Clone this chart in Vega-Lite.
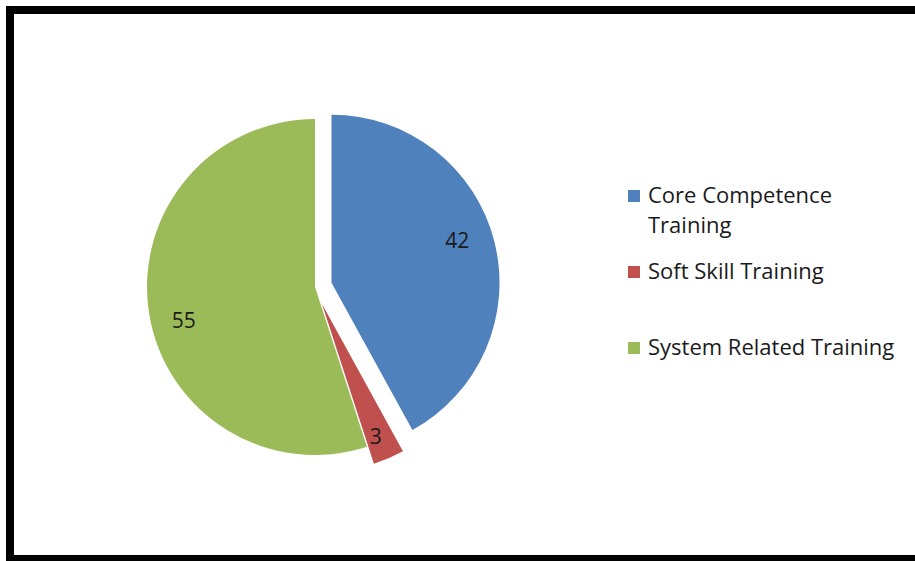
{
  "$schema": "https://vega.github.io/schema/vega-lite/v6.json",
  "width": 915,
  "height": 549,
  "autosize": "none",
  "padding": {"left": 10, "top": 10, "right": -10, "bottom": 2},
  "background": "white",
  "config": {
    "view": {"stroke": "black", "strokeWidth": 8},
    "style": {"view": {"stroke": "black", "strokeWidth": 8}, "cell": {"stroke": "black", "strokeWidth": 8}},
    "font": "Open Sans",
    "legend": {
      "labelFont": "Open Sans",
      "labelFontSize": 22,
      "labelColor": "#1a1a1a",
      "labelLimit": 400,
      "labelOffset": 3,
      "symbolSize": 144,
      "symbolType": "square",
      "symbolStrokeWidth": 0,
      "rowPadding": 24,
      "padding": 0
    }
  },
  "data": {
    "values": [
      {"cat": "Core Competence Training", "value": 42},
      {"cat": "Soft Skill Training", "value": 3},
      {"cat": "System Related Training", "value": 55}
    ]
  },
  "layer": [
    {
      "transform": [
        {"stack": "value", "groupby": [], "as": ["v0", "v1"], "sort": [{"field": "cat", "order": "ascending"}]},
        {"filter": "datum.cat == 'System Related Training'"}
      ],
      "mark": {"type": "arc", "outerRadius": 168, "x": 305, "y": 277},
      "encoding": {
        "theta": {"field": "v0", "type": "quantitative", "scale": {"domain": [0, 100]}},
        "theta2": {"field": "v1"},
        "color": {
          "field": "cat", "type": "nominal",
          "scale": {"domain": ["Core Competence Training", "Soft Skill Training", "System Related Training"], "range": ["#4F81BD", "#C0504D", "#9BBB59"]},
          "legend": {"title": null, "orient": "none", "legendX": 613, "legendY": 175, "labelExpr": "datum.label == 'Core Competence Training' ? ['Core Competence', 'Training'] : [datum.label, ' ']", "encode": {"labels": {"update": {"lineHeight": {"value": 30}}}}}
        }
      }
    },
    {
      "transform": [
        {"stack": "value", "groupby": [], "as": ["v0", "v1"], "sort": [{"field": "cat", "order": "ascending"}]},
        {"filter": "datum.cat == 'Core Competence Training'"}
      ],
      "mark": {"type": "arc", "outerRadius": 168, "x": 321.5, "y": 272.8},
      "encoding": {
        "theta": {"field": "v0", "type": "quantitative", "scale": {"domain": [0, 100]}},
        "theta2": {"field": "v1"},
        "color": {
          "field": "cat", "type": "nominal",
          "scale": {"domain": ["Core Competence Training", "Soft Skill Training", "System Related Training"], "range": ["#4F81BD", "#C0504D", "#9BBB59"]},
          "legend": {"title": null, "orient": "none", "legendX": 613, "legendY": 175, "labelExpr": "datum.label == 'Core Competence Training' ? ['Core Competence', 'Training'] : [datum.label, ' ']", "encode": {"labels": {"update": {"lineHeight": {"value": 30}}}}}
        }
      }
    },
    {
      "transform": [
        {"stack": "value", "groupby": [], "as": ["v0", "v1"], "sort": [{"field": "cat", "order": "ascending"}]},
        {"filter": "datum.cat == 'Soft Skill Training'"}
      ],
      "mark": {"type": "arc", "outerRadius": 168, "x": 312, "y": 294},
      "encoding": {
        "theta": {"field": "v0", "type": "quantitative", "scale": {"domain": [0, 100]}},
        "theta2": {"field": "v1"},
        "color": {
          "field": "cat", "type": "nominal",
          "scale": {"domain": ["Core Competence Training", "Soft Skill Training", "System Related Training"], "range": ["#4F81BD", "#C0504D", "#9BBB59"]},
          "legend": {"title": null, "orient": "none", "legendX": 613, "legendY": 175, "labelExpr": "datum.label == 'Core Competence Training' ? ['Core Competence', 'Training'] : [datum.label, ' ']", "encode": {"labels": {"update": {"lineHeight": {"value": 30}}}}}
        }
      }
    },
    {
      "mark": {"type": "text", "radius": 136, "x": 308, "y": 291, "fontSize": 21, "font": "Open Sans", "color": "#1a1a1a"},
      "encoding": {
        "theta": {"field": "value", "type": "quantitative", "stack": true},
        "order": {"field": "cat", "sort": "ascending"},
        "detail": {"field": "cat"},
        "text": {"condition": {"test": "datum.cat == 'System Related Training'", "field": "value", "type": "quantitative"}, "value": ""}
      }
    },
    {
      "mark": {"type": "text", "radius": 133, "x": 318.5, "y": 264.8, "fontSize": 21, "font": "Open Sans", "color": "#1a1a1a"},
      "encoding": {
        "theta": {"field": "value", "type": "quantitative", "stack": true},
        "order": {"field": "cat", "sort": "ascending"},
        "detail": {"field": "cat"},
        "text": {"condition": {"test": "datum.cat == 'Core Competence Training'", "field": "value", "type": "quantitative"}, "value": ""}
      }
    },
    {
      "mark": {"type": "text", "radius": 143, "x": 309, "y": 297, "fontSize": 21, "font": "Open Sans", "color": "#1a1a1a"},
      "encoding": {
        "theta": {"field": "value", "type": "quantitative", "stack": true},
        "order": {"field": "cat", "sort": "ascending"},
        "detail": {"field": "cat"},
        "text": {"condition": {"test": "datum.cat == 'Soft Skill Training'", "field": "value", "type": "quantitative"}, "value": ""}
      }
    }
  ]
}
